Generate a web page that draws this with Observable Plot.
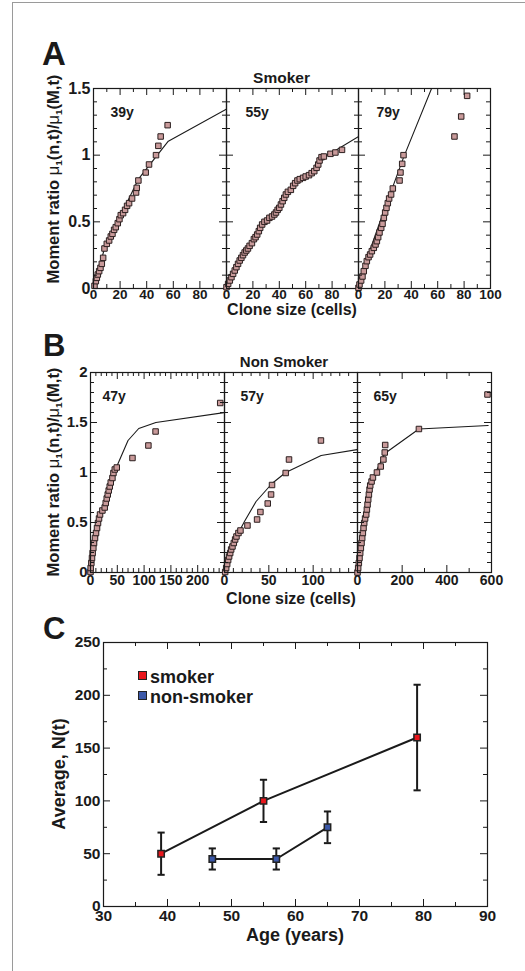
<!DOCTYPE html>
<html><head><meta charset="utf-8">
<script src="https://cdn.jsdelivr.net/npm/d3@7"></script>
<script src="https://cdn.jsdelivr.net/npm/@observablehq/plot@0.6"></script>
<style>
body{margin:0;background:#fff;font-family:"Liberation Sans",Arial,Helvetica,sans-serif;color:#1a1a1a;}
#fig{position:relative;width:525px;height:971px;overflow:hidden;background:#fff;}
#fig svg{position:absolute;overflow:visible;}
.t{position:absolute;font-weight:bold;white-space:nowrap;line-height:1;}
.rot{position:absolute;font-weight:bold;white-space:nowrap;line-height:1;transform:translate(-50%,-50%) rotate(-90deg);}
.mu{font-weight:normal;}
.sb{font-size:0.6em;position:relative;top:0.3em;}
.sw{position:absolute;width:7px;height:7px;border:1.5px solid #222;}
#border{position:absolute;left:12px;top:2px;width:520px;height:980px;border-left:1px solid #9a9a9a;border-top:1px solid #9a9a9a;}
</style></head><body><div id="fig"><div id="border"></div></div>
<script>
// ---------------- DATA ----------------
// Panel A: smokers (clone size in cells, moment ratio)
const sm39Size  = [0.75,1.75,2.5,3.25,4.25,5.25,6.25,7.25,8.25,10,11.75,13,14.25,15.5,16.75,18.25,19.5,20.5,22.25,23.75,25.25,26.75,29,32,32.5,33.75,39.25,41.75,47,48.75,50.5,55.75];
const sm39Ratio = [0.02,0.055,0.08,0.105,0.13,0.155,0.185,0.23,0.30,0.335,0.36,0.39,0.41,0.44,0.46,0.49,0.52,0.55,0.565,0.59,0.62,0.64,0.675,0.72,0.755,0.81,0.87,0.93,1.0,1.07,1.14,1.225];
const sm39FitSize  = [0,8.25,33.75,56.25,100];
const sm39FitRatio = [0,0.30,0.82,1.105,1.345];

const sm55Size  = [0,1.25,2.5,3.75,5,6.25,7.5,8.75,10,11.25,12.5,13.75,15,16.25,17.5,19.25,20.75,22,23.25,24.5,25.5,27,28.75,30.75,32.5,34.5,36.25,37.5,38.75,40,41.25,42.5,43.75,45,46.5,48.75,50.5,52,53.75,55.5,58,60,62.5,64.5,66.5,68.25,69.5,70.5,72,73.75,78.75,82.5,87.5];
const sm55Ratio = [0.01,0.035,0.06,0.085,0.11,0.135,0.16,0.185,0.21,0.23,0.25,0.27,0.285,0.30,0.32,0.34,0.37,0.385,0.405,0.43,0.455,0.48,0.50,0.51,0.53,0.54,0.555,0.57,0.59,0.605,0.63,0.655,0.68,0.705,0.725,0.74,0.77,0.79,0.81,0.82,0.83,0.84,0.85,0.865,0.88,0.905,0.93,0.96,0.985,0.99,1.01,1.02,1.04];
const sm55FitSize  = [0,10,20,28,35,40,45,50,55,62,68,72.5,80,100];
const sm55FitRatio = [0,0.21,0.35,0.49,0.545,0.60,0.70,0.76,0.81,0.85,0.90,0.98,1.02,1.14];

const sm79Size  = [0,0.75,2,3,4,5.3,6.3,7.6,8.8,10.1,11.6,12.9,13.9,14.9,15.9,17.2,18.2,19.2,20.2,21.2,22.2,23.2,24.7,26,31.1,31.8,33.1,34.1,72.7,77.8,82.3];
const sm79Ratio = [0.005,0.03,0.06,0.09,0.13,0.17,0.205,0.235,0.255,0.28,0.305,0.33,0.355,0.385,0.42,0.455,0.485,0.53,0.57,0.605,0.64,0.675,0.705,0.75,0.81,0.87,0.935,1.0,1.14,1.29,1.445];
const sm79FitSize  = [0,3,6.6,17,34,57];
const sm79FitRatio = [0,0.12,0.23,0.52,0.98,1.54];

// Panel B: non-smokers
const ns47Size  = [0,0.3,1.6,2.8,4,5.3,6.6,8.4,10.3,12.2,14,15.9,17.8,22.2,26.5,28.4,30.3,32.2,34,35.9,37.8,40.9,42.8,45.3,49,78.3,108,121.4,242];
const ns47Ratio = [0.005,0.045,0.095,0.145,0.195,0.245,0.295,0.345,0.395,0.445,0.495,0.54,0.58,0.62,0.65,0.695,0.74,0.78,0.82,0.86,0.90,0.945,0.995,1.03,1.05,1.145,1.27,1.41,1.695];
const ns47FitSize  = [0,20,49,70,90,122,250];
const ns47FitRatio = [0,0.55,1.06,1.32,1.44,1.50,1.60];

const ns57Size  = [0.75,1.9,3,4.1,5.2,6.4,7.5,9,10.5,12,13.5,15.75,18,25.9,36.75,40.5,48.75,52.5,53.6,69,72.75,108.75];
const ns57Ratio = [0.005,0.045,0.085,0.125,0.16,0.195,0.23,0.26,0.295,0.33,0.36,0.395,0.42,0.47,0.53,0.605,0.69,0.78,0.875,0.995,1.13,1.32];
const ns57FitSize  = [0,10,22.5,35.6,53.6,69,109,150];
const ns57FitRatio = [0,0.30,0.51,0.71,0.89,1.0,1.17,1.23];

const ns65Size  = [0,3,6,9,12,15,18,21,24,27,30,34,39,42,45,48,51,54,57,63,69,87,104,116,122,124,275,582];
const ns65Ratio = [0,0.045,0.095,0.145,0.195,0.245,0.295,0.345,0.395,0.445,0.495,0.54,0.58,0.63,0.68,0.73,0.78,0.83,0.87,0.91,0.95,1.0,1.06,1.13,1.2,1.275,1.435,1.78];
const ns65FitSize  = [0,20,45,70,122,275,585];
const ns65FitRatio = [0,0.33,0.68,0.95,1.19,1.435,1.47];

// Panel C: average clone size vs age
const ageSmoker = [39,55,79];
const nSmoker   = [50,100,160];
const loSmoker  = [30,80,110];
const hiSmoker  = [70,120,210];
const ageNon = [47,57,65];
const nNon   = [45,45,75];
const loNon  = [35,35,60];
const hiNon  = [55,55,90];

// Tick labels
const aXLabels12 = [0,20,40,60,80];
const aXLabels3  = [0,20,40,60,80,100];
const aYLabels   = [0,0.5,1,1.5];
const b1XLabels  = [0,50,100,150,200];
const b2XLabels  = [0,50,100];
const b3XLabels  = [0,200,400,600];
const bYLabels   = [0,0.5,1,1.5,2];
const cXLabels   = [30,40,50,60,70,80,90];
const cYLabels   = [0,50,100,150,200,250];

// ---------------- DRAWING ----------------
const FONT = '"Liberation Sans", Arial, Helvetica, sans-serif';
const INK = "#1a1a1a";
const DOT_FILL = "#c99a9a";
const RED = "#e8161c";
const BLUE = "#3b58a8";
const fig = document.getElementById("fig");

function rng(a, b, step, skip) {
  return d3.range(a, b + step / 2, step).map(v => +v.toFixed(4)).filter(v => !skip.some(s => Math.abs(s - v) < 1e-6));
}
function xTicks(vals, len, h) {
  return [
    Plot.tickX(vals, {x: d => d, insetTop: h - len, stroke: INK, strokeWidth: 1}),
    Plot.tickX(vals, {x: d => d, insetBottom: h - len, stroke: INK, strokeWidth: 1})
  ];
}
function yTicks(vals, len, w) {
  return [
    Plot.tickY(vals, {y: d => d, insetRight: w - len, stroke: INK, strokeWidth: 1}),
    Plot.tickY(vals, {y: d => d, insetLeft: w - len, stroke: INK, strokeWidth: 1})
  ];
}
function place(svg, left, top) {
  svg.style.left = left + "px";
  svg.style.top = top + "px";
  svg.style.background = "transparent";
  fig.appendChild(svg);
}

function subplot(o) {
  const mL = 45, mR = 25, mT = 12, mB = 30;
  const pts = o.size.map((s, i) => ({x: s, y: o.ratio[i]}));
  const fit = o.fitSize.map((s, i) => ({x: s, y: o.fitRatio[i]}));
  const marks = [
    Plot.line(fit, {x: "x", y: "y", stroke: INK, strokeWidth: 1.1, clip: true}),
    Plot.dot(pts, {x: "x", y: "y", symbol: "square", r: 3.1, fill: DOT_FILL, stroke: "#2b1f1f", strokeWidth: 1}),
    ...xTicks(o.xMajor, 7, o.h), ...xTicks(o.xMinor, 4, o.h),
    ...yTicks(o.yMajor, 7, o.w), ...yTicks(o.yMinor, 4, o.w),
    Plot.frame({stroke: INK, strokeWidth: 1.2}),
    Plot.text(o.xLabels, {x: d => d, text: d => String(d), frameAnchor: "bottom", lineAnchor: "top", dy: o.xPad,
      fontSize: o.xFont, fontWeight: "bold", fill: INK}),
    Plot.text([o.tag], {text: d => d, frameAnchor: "top-left", lineAnchor: "top", textAnchor: "start",
      dx: o.tagDx, dy: 19, fontSize: 14, fontWeight: "bold", fill: INK})
  ];
  if (o.yLabels) marks.push(Plot.text(o.yLabels, {y: d => d, text: d => String(d), frameAnchor: "left",
    textAnchor: "end", dx: -3, fontSize: o.yFont, fontWeight: "bold", fill: INK}));
  const svg = Plot.plot({
    width: mL + o.w + mR, height: mT + o.h + mB,
    marginLeft: mL, marginRight: mR, marginTop: mT, marginBottom: mB,
    style: {background: "transparent", overflow: "visible", fontFamily: FONT, color: INK},
    x: {domain: o.xDomain, axis: null},
    y: {domain: o.yDomain, axis: null},
    marks
  });
  place(svg, o.left - mL, o.top - mT);
}

// Panel A geometry
const aTop = 88, aH = 200;
const aYMajor = [0, 0.5, 1, 1.5];
const aYMinor = rng(0, 1.5, 0.1, aYMajor);
const aXMajor = [0,20,40,60,80,100];
const aXMinor = [10,30,50,70,90];
subplot({left: 93, top: aTop, w: 133, h: aH, xDomain: [0,100], yDomain: [0,1.5],
  xMajor: aXMajor, xMinor: aXMinor, yMajor: aYMajor, yMinor: aYMinor,
  xLabels: aXLabels12, yLabels: aYLabels, xFont: 13.5, xPad: 1, yFont: 16, tag: "39y", tagDx: 17,
  size: sm39Size, ratio: sm39Ratio, fitSize: sm39FitSize, fitRatio: sm39FitRatio});
subplot({left: 226, top: aTop, w: 132, h: aH, xDomain: [0,100], yDomain: [0,1.5],
  xMajor: aXMajor, xMinor: aXMinor, yMajor: aYMajor, yMinor: aYMinor,
  xLabels: aXLabels12, xFont: 13.5, xPad: 1, tag: "55y", tagDx: 19,
  size: sm55Size, ratio: sm55Ratio, fitSize: sm55FitSize, fitRatio: sm55FitRatio});
subplot({left: 358, top: aTop, w: 132, h: aH, xDomain: [0,100], yDomain: [0,1.5],
  xMajor: aXMajor, xMinor: aXMinor, yMajor: aYMajor, yMinor: aYMinor,
  xLabels: aXLabels3, xFont: 13.5, xPad: 1, tag: "79y", tagDx: 18,
  size: sm79Size, ratio: sm79Ratio, fitSize: sm79FitSize, fitRatio: sm79FitRatio});

// Panel B geometry
const bTop = 372, bH = 200;
const bYMajor = [0, 0.5, 1, 1.5, 2];
const bYMinor = rng(0, 2, 0.1, bYMajor);
subplot({left: 90, top: bTop, w: 134, h: bH, xDomain: [0,250], yDomain: [0,2],
  xMajor: [0,50,100,150,200,250], xMinor: rng(0,250,10,[0,50,100,150,200,250]),
  yMajor: bYMajor, yMinor: bYMinor,
  xLabels: b1XLabels, yLabels: bYLabels, xFont: 14, xPad: 3, yFont: 15, tag: "47y", tagDx: 12,
  size: ns47Size, ratio: ns47Ratio, fitSize: ns47FitSize, fitRatio: ns47FitRatio});
subplot({left: 224, top: bTop, w: 133, h: bH, xDomain: [0,150], yDomain: [0,2],
  xMajor: [0,50,100,150], xMinor: rng(0,150,10,[0,50,100,150]),
  yMajor: bYMajor, yMinor: bYMinor,
  xLabels: b2XLabels, xFont: 14, xPad: 3, tag: "57y", tagDx: 16,
  size: ns57Size, ratio: ns57Ratio, fitSize: ns57FitSize, fitRatio: ns57FitRatio});
subplot({left: 357, top: bTop, w: 134, h: bH, xDomain: [0,600], yDomain: [0,2],
  xMajor: [0,200,400,600], xMinor: [100,300,500],
  yMajor: bYMajor, yMinor: bYMinor,
  xLabels: b3XLabels, xFont: 14, xPad: 3, tag: "65y", tagDx: 16,
  size: ns65Size, ratio: ns65Ratio, fitSize: ns65FitSize, fitRatio: ns65FitRatio});

// Panel C
(function () {
  const left = 103, top = 642, w = 384, h = 264;
  const mL = 45, mR = 25, mT = 12, mB = 30;
  const smoker = ageSmoker.map((a, i) => ({age: a, n: nSmoker[i], lo: loSmoker[i], hi: hiSmoker[i]}));
  const non = ageNon.map((a, i) => ({age: a, n: nNon[i], lo: loNon[i], hi: hiNon[i]}));
  const cap = {draw(ctx, size) { const r = Math.sqrt(size / Math.PI); ctx.moveTo(-r, 0); ctx.lineTo(r, 0); }};
  const series = (data, color) => [
    Plot.line(data, {x: "age", y: "n", stroke: INK, strokeWidth: 2}),
    Plot.ruleX(data, {x: "age", y1: "lo", y2: "hi", stroke: INK, strokeWidth: 2}),
    Plot.dot(data, {x: "age", y: "lo", symbol: cap, r: 3.6, stroke: INK, strokeWidth: 2, fill: "none"}),
    Plot.dot(data, {x: "age", y: "hi", symbol: cap, r: 3.6, stroke: INK, strokeWidth: 2, fill: "none"}),
    Plot.dot(data, {x: "age", y: "n", symbol: "square", r: 3.6, fill: color, stroke: "#222", strokeWidth: 1.5})
  ];
  const svg = Plot.plot({
    width: mL + w + mR, height: mT + h + mB,
    marginLeft: mL, marginRight: mR, marginTop: mT, marginBottom: mB,
    style: {background: "transparent", overflow: "visible", fontFamily: FONT, color: INK},
    x: {domain: [30, 90], axis: null},
    y: {domain: [0, 250], axis: null},
    marks: [
      ...xTicks([30,40,50,60,70,80,90], 7, h), ...xTicks([35,45,55,65,75,85], 4, h),
      ...yTicks([0,50,100,150,200,250], 7, w), ...yTicks([25,75,125,175,225], 4, w),
      ...series(smoker, RED),
      ...series(non, BLUE),
      Plot.frame({stroke: INK, strokeWidth: 1.2}),
      Plot.text(cXLabels, {x: d => d, text: d => String(d), frameAnchor: "bottom", lineAnchor: "top", dy: 3,
        fontSize: 15.5, fontWeight: "bold", fill: INK}),
      Plot.text(cYLabels, {y: d => d, text: d => String(d), frameAnchor: "left", textAnchor: "end", dx: -3,
        fontSize: 15.5, fontWeight: "bold", fill: INK})
    ]
  });
  place(svg, left - mL, top - mT);
})();

// ---------------- TEXT ----------------
function label(html, x, baseline, size, anchor) {
  const d = document.createElement("div");
  d.className = "t";
  d.style.fontSize = size + "px";
  d.style.left = x + "px";
  d.style.top = (baseline - 0.8465 * size) + "px";
  if (anchor === "middle") d.style.transform = "translateX(-50%)";
  d.innerHTML = html;
  fig.appendChild(d);
}
function rotLabel(html, cx, cy, size) {
  const d = document.createElement("div");
  d.className = "rot";
  d.style.fontSize = size + "px";
  d.style.left = cx + "px";
  d.style.top = cy + "px";
  d.innerHTML = html;
  fig.appendChild(d);
}
label("A", 42, 65, 33);
label("B", 43, 356, 31);
label("C", 43, 639, 31);
label("Smoker", 281.5, 83, 15.5, "middle");
label("Non Smoker", 284, 367, 15, "middle");
label("Clone size (cells)", 292, 316, 16, "middle");
label("Clone size (cells)", 291, 605, 16, "middle");
label("Age (years)", 295, 941, 18, "middle");
const momentLab = 'Moment ratio <span class="mu">μ</span><span class="sb">1</span>(n,t)/<span class="mu">μ</span><span class="sb">1</span>(M,t)';
rotLabel(momentLab, 52.5, 179, 16.5);
rotLabel(momentLab, 52.5, 472, 16.5);
rotLabel("Average, N(t)", 58.5, 774, 18);
// legend
function swatch(color, cx, cy) {
  const s = document.createElement("div");
  s.className = "sw";
  s.style.background = color;
  s.style.left = (cx - 5) + "px";
  s.style.top = (cy - 5) + "px";
  fig.appendChild(s);
}
swatch(RED, 142.5, 676);
swatch(BLUE, 142.5, 696);
label("smoker", 150, 683, 18);
label("non-smoker", 150, 703, 18);
</script></body></html>
